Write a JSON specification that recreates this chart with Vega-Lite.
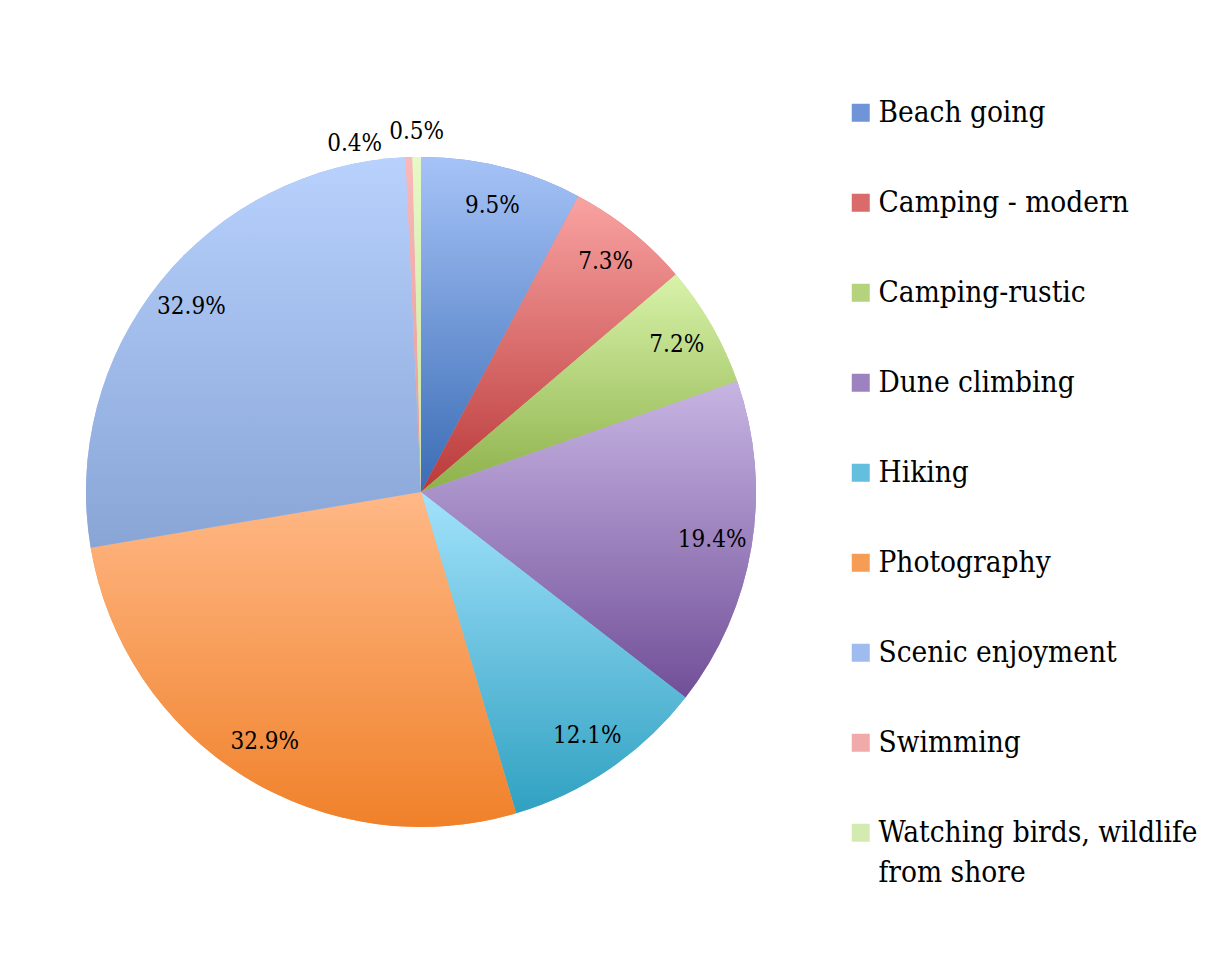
{
  "$schema": "https://vega.github.io/schema/vega-lite/v6.json",
  "width": 828,
  "height": 970,
  "autosize": {"type": "pad"},
  "padding": {"left": 7, "top": 7, "right": 0, "bottom": 0},
  "background": "white",
  "config": {"view": {"stroke": null}, "font": "DejaVu Serif Condensed"},
  "data": {
    "values": [
      {"activity": "Beach going", "pct": 0.095},
      {"activity": "Camping - modern", "pct": 0.073},
      {"activity": "Camping-rustic", "pct": 0.072},
      {"activity": "Dune climbing", "pct": 0.194},
      {"activity": "Hiking", "pct": 0.121},
      {"activity": "Photography", "pct": 0.329},
      {"activity": "Scenic enjoyment", "pct": 0.329},
      {"activity": "Swimming", "pct": 0.004},
      {"activity": "Watching birds, wildlife from shore", "pct": 0.005}
    ]
  },
  "encoding": {
    "theta": {"field": "pct", "type": "quantitative", "stack": true},
    "order": {"field": "activity", "type": "nominal", "sort": "ascending"}
  },
  "layer": [
    {
      "mark": {"type": "arc", "outerRadius": 335},
      "encoding": {
        "color": {
          "field": "activity",
          "type": "nominal",
          "scale": {
            "domain": ["Beach going", "Camping - modern", "Camping-rustic", "Dune climbing", "Hiking", "Photography", "Scenic enjoyment", "Swimming", "Watching birds, wildlife from shore"],
            "range": ["#6f95d8", "#d96b6a", "#b4d37c", "#9c83bf", "#63bfdd", "#f69d55", "#a0bbee", "#f0aaaa", "#d3ebb0"]
          },
          "legend": {
            "title": null,
            "orient": "none",
            "legendX": 839,
            "legendY": 91,
            "symbolType": "square",
            "symbolSize": 324,
            "symbolStrokeWidth": 0,
            "labelFontSize": 29.5,
            "labelFont": "DejaVu Serif Condensed",
            "labelColor": "#000000",
            "labelOffset": 3,
            "rowPadding": 59,
            "labelLimit": 400,
            "labelExpr": "datum.label == 'Watching birds, wildlife from shore' ? ['Watching birds, wildlife', 'from shore'] : datum.label",
            "encoding": {"labels": {"lineHeight": {"value": 40}}}
          }
        }
      }
    },
    {
      "mark": {"type": "arc", "outerRadius": 335},
      "encoding": {
        "fill": {
          "condition": [
            {"test": "datum.activity === 'Beach going'", "value": {"gradient": "linear", "x1": 0, "y1": 0, "x2": 0, "y2": 1, "stops": [{"offset": 0, "color": "#a6c3f7"}, {"offset": 1, "color": "#3a6cb5"}]}},
            {"test": "datum.activity === 'Camping - modern'", "value": {"gradient": "linear", "x1": 0, "y1": 0, "x2": 0, "y2": 1, "stops": [{"offset": 0, "color": "#f9a3a2"}, {"offset": 1, "color": "#ba3939"}]}},
            {"test": "datum.activity === 'Camping-rustic'", "value": {"gradient": "linear", "x1": 0, "y1": 0, "x2": 0, "y2": 1, "stops": [{"offset": 0, "color": "#d8f3aa"}, {"offset": 1, "color": "#8db14a"}]}},
            {"test": "datum.activity === 'Dune climbing'", "value": {"gradient": "linear", "x1": 0, "y1": 0, "x2": 0, "y2": 1, "stops": [{"offset": 0, "color": "#c7b5e3"}, {"offset": 1, "color": "#714f98"}]}},
            {"test": "datum.activity === 'Hiking'", "value": {"gradient": "linear", "x1": 0, "y1": 0, "x2": 0, "y2": 1, "stops": [{"offset": 0, "color": "#a2e2fc"}, {"offset": 1, "color": "#30a1c1"}]}},
            {"test": "datum.activity === 'Photography'", "value": {"gradient": "linear", "x1": 0, "y1": 0, "x2": 0, "y2": 1, "stops": [{"offset": 0, "color": "#ffb886"}, {"offset": 1, "color": "#f0812a"}]}},
            {"test": "datum.activity === 'Scenic enjoyment'", "value": {"gradient": "linear", "x1": 0, "y1": 0, "x2": 0, "y2": 1, "stops": [{"offset": 0, "color": "#b8d1fd"}, {"offset": 1, "color": "#88a5d6"}]}},
            {"test": "datum.activity === 'Swimming'", "value": {"gradient": "linear", "x1": 0, "y1": 0, "x2": 0, "y2": 1, "stops": [{"offset": 0, "color": "#fab8b8"}, {"offset": 1, "color": "#e29b9b"}]}},
            {"test": "datum.activity === 'Watching birds, wildlife from shore'", "value": {"gradient": "linear", "x1": 0, "y1": 0, "x2": 0, "y2": 1, "stops": [{"offset": 0, "color": "#e6f9c6"}, {"offset": 1, "color": "#c9e3a0"}]}}
          ],
          "value": "#cccccc"
        }
      }
    },
    {
      "transform": [{"filter": "datum.pct > 0.01"}],
      "mark": {"type": "text", "radius": 295, "fontSize": 24, "font": "DejaVu Serif Condensed", "color": "#000000"},
      "encoding": {
        "text": {"field": "pct", "type": "quantitative", "format": ".1%"}
      }
    },
    {
      "transform": [{"filter": "datum.activity === 'Watching birds, wildlife from shore'"}],
      "mark": {"type": "text", "radius": 360, "dx": -9, "fontSize": 24, "font": "DejaVu Serif Condensed", "color": "#000000"},
      "encoding": {
        "text": {"field": "pct", "type": "quantitative", "format": ".1%"}
      }
    },
    {
      "transform": [{"filter": "datum.activity === 'Swimming'"}],
      "mark": {"type": "text", "radius": 355, "dx": -70, "dy": 7, "fontSize": 24, "font": "DejaVu Serif Condensed", "color": "#000000"},
      "encoding": {
        "text": {"field": "pct", "type": "quantitative", "format": ".1%"}
      }
    }
  ]
}
